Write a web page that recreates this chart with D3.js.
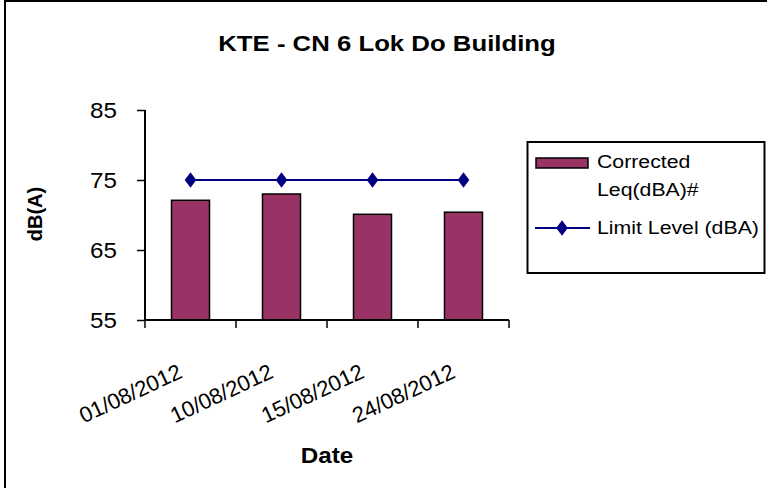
<!DOCTYPE html>
<html><head><meta charset="utf-8">
<script src="https://cdn.jsdelivr.net/npm/d3@7"></script>
<style>body{margin:0;background:#fff}svg{display:block;font-family:Arial,"Liberation Sans",sans-serif}</style>
</head><body>
<script>
const categories = ["01/08/2012","10/08/2012","15/08/2012","24/08/2012"];
const correctedLeq = [72.1, 73.0, 70.1, 70.4];
const limitLevel = [75, 75, 75, 75];
const yTicks = [55, 65, 75, 85];
const seriesNames = ["Corrected", "Leq(dBA)#", "Limit Level (dBA)"];

const W = 767, H = 488;
const FF = "Arial,'Liberation Sans',sans-serif";
const svg = d3.select("body").append("svg").attr("width", W).attr("height", H);

// outer border (left & top visible)
svg.append("rect").attr("x",5).attr("y",1).attr("width",W+10).attr("height",H+10)
  .attr("fill","#fff").attr("stroke","#000").attr("stroke-width",2);

const x = d3.scaleBand().domain(categories).range([145, 509]).paddingInner(0).paddingOuter(0);
const y = d3.scaleLinear().domain([55, 85]).range([320, 110]);
const barW = 38;
const cx = c => x(c) + x.bandwidth()/2;

function stxt(g, tx, ty, size, sx, txt, anchor, bold){
  return g.append("text").attr("transform",`translate(${tx},${ty}) scale(${sx},1)`)
    .attr("text-anchor",anchor||"start").attr("font-size",size)
    .attr("font-weight",bold?"bold":"normal").attr("font-family",FF).text(txt);
}

// title
stxt(svg, 387, 51, 23, 1.12, "KTE - CN 6 Lok Do Building", "middle", true);

// bars
svg.selectAll("rect.bar").data(correctedLeq).join("rect").attr("class","bar")
  .attr("x",(d,i)=>cx(categories[i])-barW/2)
  .attr("width",barW)
  .attr("y",d=>y(d)).attr("height",d=>y(55)-y(d))
  .attr("fill","#993366").attr("stroke","#000").attr("stroke-width",1.5);

// y axis
const yAxis = svg.append("g").attr("transform","translate(145,0)")
  .call(d3.axisLeft(y).tickValues(yTicks).tickSize(8).tickFormat(d3.format("d")));
yAxis.select(".domain").attr("stroke","#000").attr("stroke-width",2).attr("d","M0,110V320");
yAxis.selectAll(".tick line").attr("stroke","#000").attr("stroke-width",1.5);
yAxis.selectAll(".tick text").attr("x",0).attr("dy","0.35em")
  .attr("transform","translate(-28,0) scale(1.1,1)")
  .attr("font-size",22).attr("fill","#000").attr("font-family",FF);

// x axis
const xAxis = svg.append("g").attr("transform","translate(0,320)");
xAxis.append("line").attr("x1",145).attr("x2",509).attr("y1",0).attr("y2",0).attr("stroke","#000").attr("stroke-width",2);
const bounds = categories.map(c=>x(c)).concat([x.range()[1]]);
xAxis.selectAll("line.tk").data(bounds).join("line").attr("class","tk")
  .attr("x1",d=>d).attr("x2",d=>d).attr("y1",0).attr("y2",8).attr("stroke","#000").attr("stroke-width",1.5);
xAxis.selectAll("text").data(categories).join("text")
  .attr("transform",d=>`translate(${cx(d)-7},${57}) rotate(-25)`)
  .attr("text-anchor","end").attr("font-size",22).attr("font-family",FF).text(d=>d);

// line series
const line = d3.line().x((d,i)=>cx(categories[i])).y(d=>y(d));
svg.append("path").datum(limitLevel).attr("d",line).attr("fill","none").attr("stroke","#000080").attr("stroke-width",2);
const diamond = d3.symbol().type(d3.symbolDiamond).size(70);
svg.selectAll("path.mk").data(limitLevel).join("path").attr("class","mk")
  .attr("transform",(d,i)=>`translate(${cx(categories[i])},${y(d)}) scale(1.3,1)`)
  .attr("d",diamond).attr("fill","#000080");

// axis titles
stxt(svg, 327, 463, 22, 1.1, "Date", "middle", true);
svg.append("text").attr("transform","translate(42,214) rotate(-90)").attr("text-anchor","middle")
  .attr("font-size",20).attr("font-weight","bold").attr("font-family",FF).text("dB(A)");

// legend
const lg = svg.append("g");
lg.append("rect").attr("x",527.5).attr("y",142).attr("width",237).attr("height",131)
  .attr("fill","#fff").attr("stroke","#000").attr("stroke-width",2);
lg.append("rect").attr("x",536).attr("y",158).attr("width",52).attr("height",10)
  .attr("fill","#993366").attr("stroke","#000").attr("stroke-width",1.5);
stxt(lg, 597, 168, 19, 1.12, seriesNames[0]);
stxt(lg, 597, 196, 19, 1.12, seriesNames[1]);
lg.append("line").attr("x1",535).attr("x2",590).attr("y1",228).attr("y2",228).attr("stroke","#000080").attr("stroke-width",2);
lg.append("path").attr("transform","translate(562,228) scale(1.3,1)").attr("d",diamond).attr("fill","#000080");
stxt(lg, 597, 234, 19, 1.12, seriesNames[2]);
</script>
</body></html>
